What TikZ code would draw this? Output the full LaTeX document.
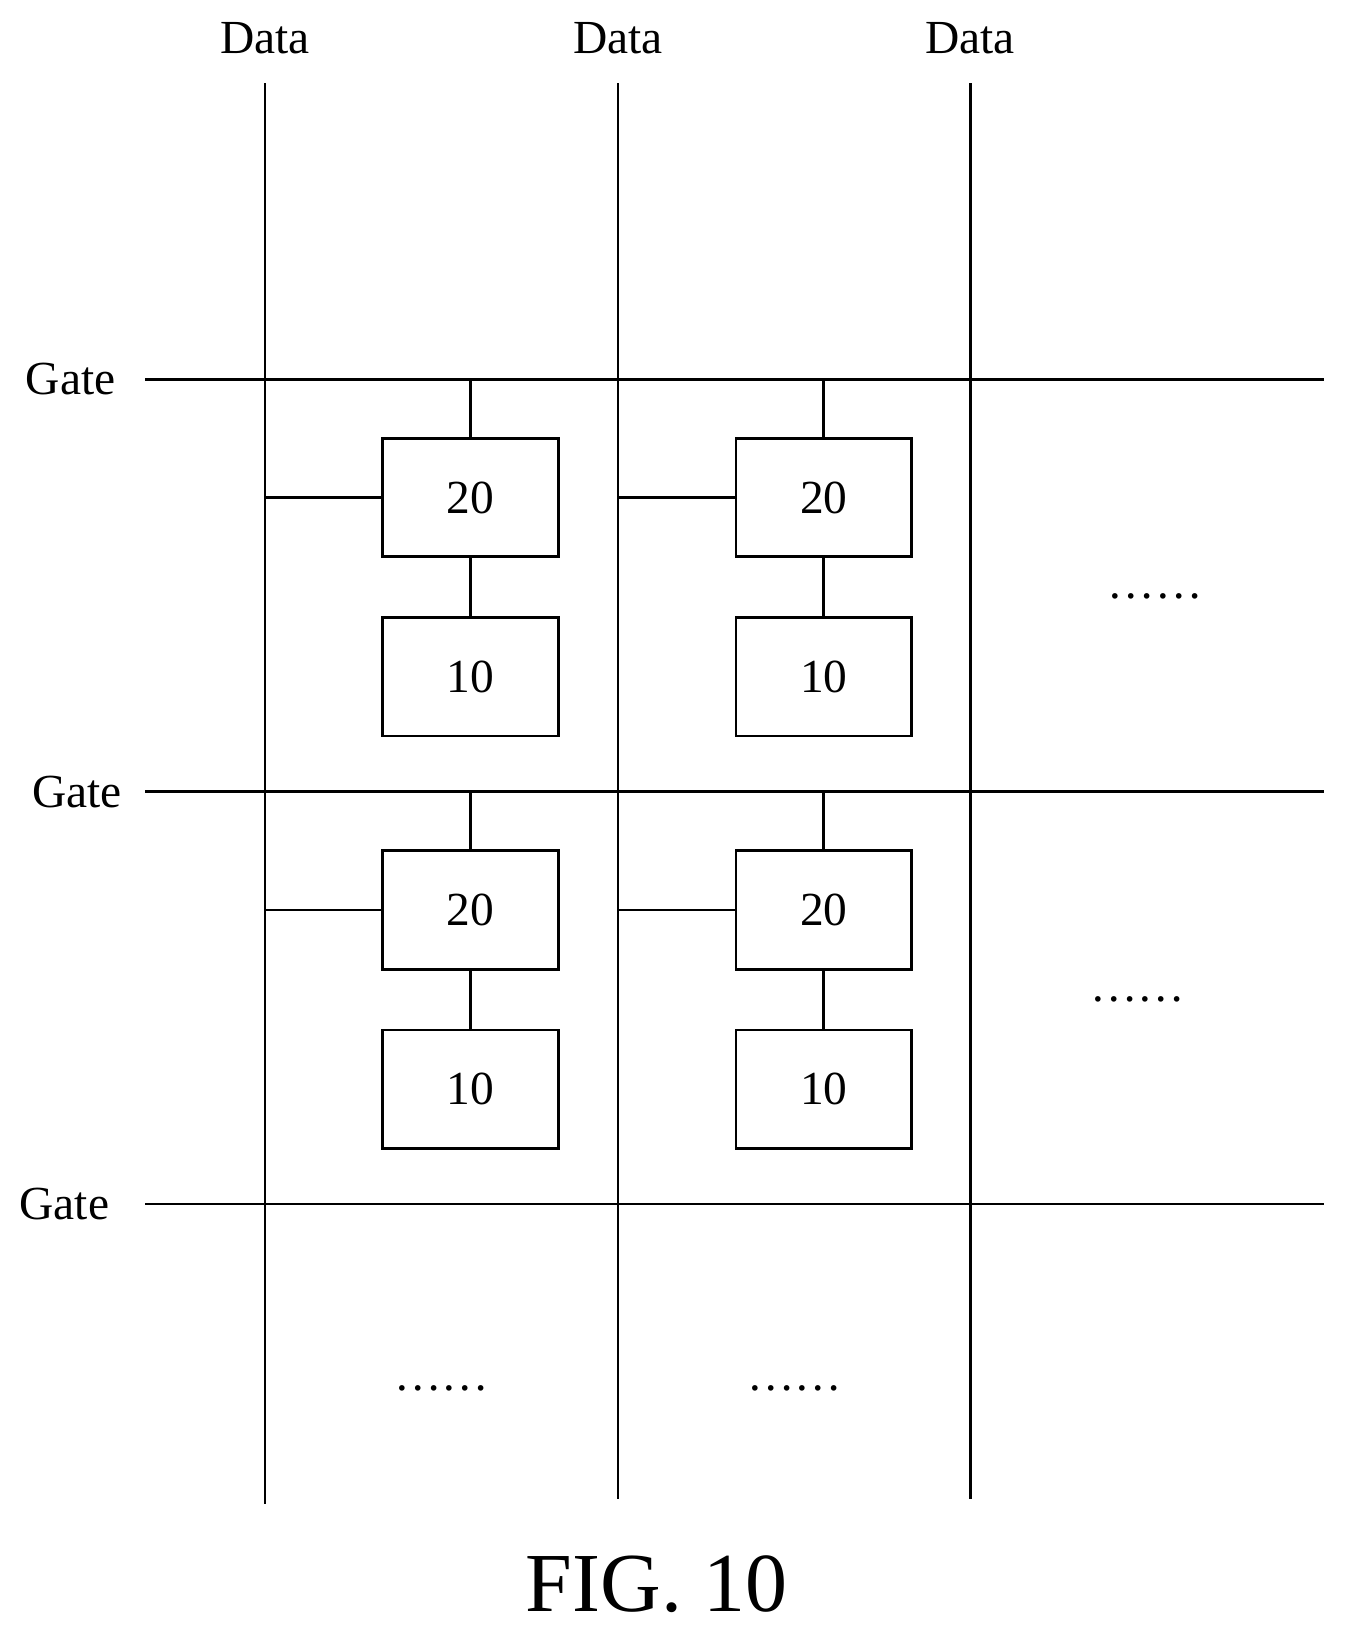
\documentclass[tikz,border=0pt]{standalone}
\usepackage{fontspec}
\setmainfont{Liberation Serif}
\usetikzlibrary{positioning}
\begin{document}
\begin{tikzpicture}[x=0.02cm,y=-0.02cm,line width=1.5pt]
 \tikzset{pixel node/.style={rectangle, draw, line width=1.5pt,
 		minimum width=3.38cm, minimum height=2.28cm, inner sep=0pt,
 		font=\fontsize{26}{30}\selectfont}, }
 \tikzset{label node/.style={font=\fontsize{26}{30}\selectfont}, }
 \tikzset{dots node/.style={font=\fontsize{26}{30}\selectfont}, }
 \useasboundingbox (0,0) rectangle (1300,1574);
 % data lines
 \foreach \n/\x/\b in {1/255/1448,2/595/1443,3/934/1443} {
 \node[label node] (data\n) at (\x,37) {Data};
 \coordinate (dt\n) at (\x,80);
 \coordinate (db\n) at (\x,\b);
 \draw (dt\n) -- (db\n);
 }
 % gate lines
 \foreach \n/\y/\lx in {1/365/68,2/762/74,3/1159/62} {
 \node[label node] (gate\n) at (\lx,\y) {Gate};
 \coordinate (gl\n) at (140,\y);
 \coordinate (gr\n) at (1275,\y);
 \draw (gl\n) -- (gr\n);
 }
 % pixels
 \foreach \c/\x/\d in {1/453/255,2/793/595} {
 \foreach \r/\y/\g in {1/365/365,2/762/762} {
 \node[pixel node] (sw\c\r) at (\x,\y+114) {20};
 \node[pixel node] (px\c\r) [below=1.12cm of sw\c\r] {10};
 \coordinate (gt\c\r) at (\x,\g);
 \coordinate (dl\c\r) at (\d,\y+114);
 \draw (gt\c\r) -- (sw\c\r.north);
 \draw (dl\c\r) -- (sw\c\r.west);
 \draw (sw\c\r) -- (px\c\r);
 }
 }
 \node[dots node] (dots1) at (1112,574) {\dots\dots};
 \node[dots node] (dots2) at (1095,962) {\dots\dots};
 \node[dots node] (dots3) at (425,1337) {\dots\dots};
 \node[dots node] (dots4) at (765,1337) {\dots\dots};
 \node[font=\fontsize{46}{52}\selectfont] (fig) at (632,1525) {FIG. 10};
 %%
\end{tikzpicture}
\end{document}
